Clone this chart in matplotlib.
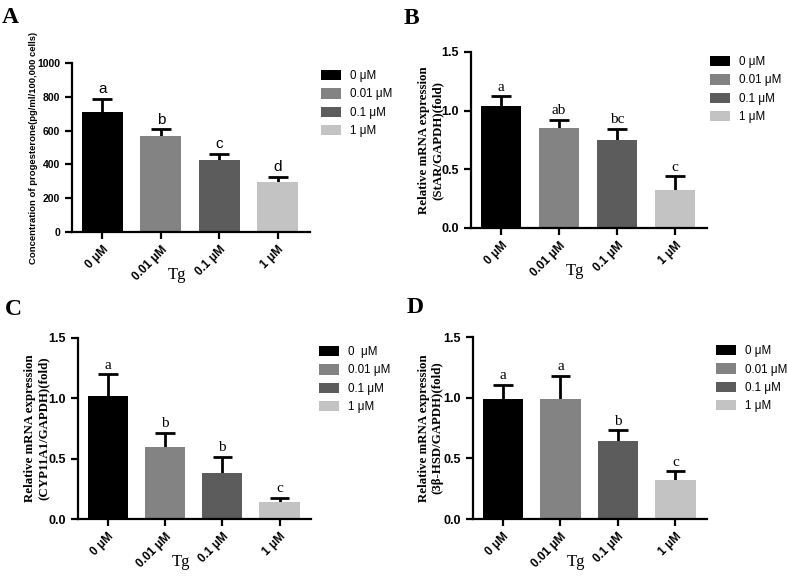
import numpy as np
import matplotlib
matplotlib.use("Agg")
import matplotlib.pyplot as plt
from matplotlib.patches import Patch

# 데이터
doses = ["0 μM", "0.01 μM", "0.1 μM", "1 μM"]
legend_c = ["0  μM", "0.01 μM", "0.1 μM", "1 μM"]
bar_colors = ["#000000", "#838383", "#5c5c5c", "#c3c3c3"]

prog_mean = [710, 568, 428, 294]
prog_err = [77, 39, 35, 33]
prog_sig = ["a", "b", "c", "d"]

star_mean = [1.037, 0.852, 0.747, 0.321]
star_err = [0.085, 0.071, 0.097, 0.119]
star_sig = ["a", "ab", "bc", "c"]

cyp_mean = [1.020, 0.593, 0.380, 0.138]
cyp_err = [0.179, 0.121, 0.136, 0.038]
cyp_sig = ["a", "b", "b", "c"]

hsd_mean = [0.992, 0.986, 0.646, 0.319]
hsd_err = [0.112, 0.195, 0.085, 0.074]
hsd_sig = ["a", "a", "b", "c"]

SANS = "Liberation Sans"
SERIF = "Liberation Serif"
W, H = 788, 578

fig = plt.figure(figsize=(W / 100, H / 100), dpi=100)


def px_axes(left, right, top, bottom):
    return fig.add_axes([left / W, 1 - bottom / H, (right - left) / W, (bottom - top) / H])


def draw_panel(box, mean, err, sig, ylim, yticks, yfmt, ylabel, label_x,
               letter, letter_xy, legend_xy, legend_labels, serif_style):
    ax = px_axes(*box)
    x = np.arange(len(mean))
    top = np.array(mean) + np.array(err)
    ax.bar(x, mean, width=0.7, color=bar_colors, zorder=2)
    # 위쪽 방향 오차막대만 표시 (GraphPad 스타일)
    ax.vlines(x, mean, top, color="black", linewidth=2, zorder=1)
    ax.hlines(top, x - 0.17, x + 0.17, color="black", linewidth=2, zorder=1)
    ax.set_xlim(-0.52, 3.55)
    ax.set_ylim(*ylim)
    ax.set_yticks(yticks)
    ax.set_yticklabels([yfmt.format(v) for v in yticks])
    ax.set_xticks(x)
    ax.set_xticklabels(doses, rotation=45, ha="right", rotation_mode="anchor")
    for s in ["top", "right"]:
        ax.spines[s].set_visible(False)
    for s in ["left", "bottom"]:
        ax.spines[s].set_linewidth(1.6)
    ax.tick_params(width=1.6, length=5)
    tick_fs = 9.0 if serif_style else 7.5
    for t in ax.get_yticklabels():
        t.set_fontfamily(SANS)
        t.set_fontweight("bold")
        t.set_fontsize(tick_fs)
    for t in ax.get_xticklabels():
        t.set_fontfamily(SANS)
        t.set_fontweight("bold")
        t.set_fontsize(8.5)

    # 유의성 문자
    span = ylim[1] - ylim[0]
    fam = SERIF if serif_style else SANS
    for xi, t, s in zip(x, top, sig):
        ax.text(xi, t + span * 0.015, s, ha="center", va="bottom",
                fontfamily=fam, fontsize=11)

    if serif_style:
        ax.set_ylabel(ylabel, fontfamily=SERIF, fontweight="bold", fontsize=9.3,
                      va="center", linespacing=1.2)
    else:
        ax.set_ylabel(ylabel, fontfamily=SANS, fontweight="bold", fontsize=6.8,
                      va="center")
    ax.yaxis.set_label_coords(label_x, 0.5)

    ax.annotate("Tg", xy=(0.44, 0), xycoords="axes fraction", xytext=(0, -43),
                textcoords="offset pixels", ha="center", va="center",
                fontfamily=SERIF, fontsize=12)

    fig.text(letter_xy[0] / W, 1 - letter_xy[1] / H, letter, fontfamily=SERIF,
             fontweight="bold", fontsize=17, ha="left", va="top")

    handles = [Patch(facecolor=c, edgecolor="none") for c in bar_colors]
    ax.legend(handles, legend_labels, loc="upper left",
              bbox_to_anchor=(legend_xy[0] / W, 1 - legend_xy[1] / H),
              bbox_transform=fig.transFigure, frameon=False, borderpad=0,
              borderaxespad=0, handlelength=1.75, handleheight=0.95,
              handletextpad=0.7, labelspacing=0.55,
              prop={"family": SANS, "size": 8.4})
    return ax


draw_panel((72, 310, 63, 232), prog_mean, prog_err, prog_sig, (0, 1000),
           [0, 200, 400, 600, 800, 1000], "{:.0f}",
           "Concentration of progesterone(pg/ml/100,000 cells)", -0.16,
           "A", (2, 7), (321, 70), doses, False)

draw_panel((471, 707, 52, 228), star_mean, star_err, star_sig, (0, 1.5),
           [0, 0.5, 1.0, 1.5], "{:.1f}",
           "Relative mRNA expression\n(StAR/GAPDH)(fold)", -0.172,
           "B", (404, 8), (710, 56), doses, True)

draw_panel((78, 311, 338, 519), cyp_mean, cyp_err, cyp_sig, (0, 1.5),
           [0, 0.5, 1.0, 1.5], "{:.1f}",
           "Relative mRNA expression\n(CYP11A1/GAPDH)(fold)", -0.177,
           "C", (5, 299), (319, 346), legend_c, True)

draw_panel((473, 707, 337, 519), hsd_mean, hsd_err, hsd_sig, (0, 1.5),
           [0, 0.5, 1.0, 1.5], "{:.1f}",
           "Relative mRNA expression\n(3β-HSD/GAPDH)(fold)", -0.18,
           "D", (407, 297), (716, 345), doses, True)

fig.savefig("out.png", dpi=100)
